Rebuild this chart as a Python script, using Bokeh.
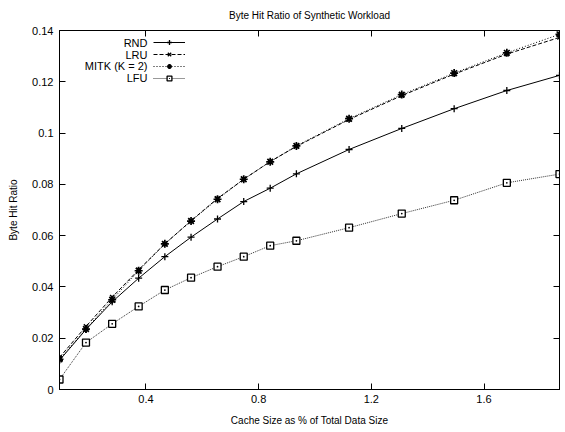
from bokeh.plotting import figure
from bokeh.models import (Range1d, LinearAxis, FixedTicker, Legend, LegendItem,
                          Label, Title)
from bokeh.embed import file_html
from bokeh.resources import INLINE

# ---------------- data ----------------
cache_size = [0.093, 0.187, 0.28, 0.374, 0.467, 0.56, 0.654, 0.747, 0.841, 0.934,
              1.121, 1.308, 1.494, 1.681, 1.868]
rnd = [0.0114, 0.0234, 0.0342, 0.0434, 0.0518, 0.0594, 0.0665, 0.0733, 0.0785, 0.0841,
       0.0936, 0.1018, 0.1095, 0.1166, 0.1225]
lru = [0.0125, 0.0246, 0.0360, 0.0467, 0.0568, 0.0658, 0.0745, 0.0820, 0.0889, 0.0948,
       0.1053, 0.1146, 0.1230, 0.1308, 0.1373]
mitk = [0.0118, 0.0236, 0.0350, 0.0463, 0.0568, 0.0657, 0.0742, 0.0820, 0.0888, 0.0950,
        0.1056, 0.1150, 0.1234, 0.1313, 0.1385]
lfu = [0.0039, 0.0183, 0.0256, 0.0324, 0.0388, 0.0436, 0.0479, 0.0518, 0.0561, 0.0580,
       0.0631, 0.0686, 0.0738, 0.0806, 0.0840]
series_names = ["RND", "LRU", "MITK (K = 2)", "LFU"]
x_ticks = [0.4, 0.8, 1.2, 1.6]
x_tick_labels = ["0.4", "0.8", "1.2", "1.6"]
y_ticks = [0.0, 0.02, 0.04, 0.06, 0.08, 0.1, 0.12, 0.14]
y_tick_labels = ["0", "0.02", "0.04", "0.06", "0.08", "0.1", "0.12", "0.14"]
title_text = "Byte Hit Ratio of Synthetic Workload"
x_label = "Cache Size as % of Total Data Size"
y_label = "Byte Hit Ratio"

FONT = "Liberation Sans"

p = figure(width=560, height=432, output_backend="svg", toolbar_location=None,
           x_range=Range1d(cache_size[0], cache_size[-1]),
           y_range=Range1d(y_ticks[0], y_ticks[-1]),
           x_axis_type=None, y_axis_type=None,
           min_border_left=59, min_border_right=1, min_border_top=30, min_border_bottom=43)
p.grid.visible = False
p.outline_line_color = "black"
p.outline_line_width = 1
p.background_fill_color = "white"
p.border_fill_color = "white"

p.title = Title(text=title_text, align="center", vertical_align="top", text_font=FONT,
                text_font_size="10px", text_font_style="normal", text_color="black",
                standoff=16, offset=0)


def style_axis(ax, show_labels):
    ax.axis_line_color = "black"
    ax.major_tick_line_color = "black"
    ax.major_tick_in = 6
    ax.major_tick_out = 0
    ax.minor_tick_line_color = None
    ax.major_label_text_font = FONT
    ax.major_label_text_color = "black"
    ax.axis_label_text_font = FONT
    ax.axis_label_text_font_style = "normal"
    ax.axis_label_text_font_size = "10px"
    ax.axis_label_text_color = "black"
    if show_labels:
        ax.major_label_text_font_size = "11px"
    else:
        ax.major_label_text_font_size = "1px"
        ax.major_label_standoff = 0


xb = LinearAxis(ticker=FixedTicker(ticks=x_ticks), axis_label=x_label,
                major_label_overrides={t: s for t, s in zip(x_ticks, x_tick_labels)})
style_axis(xb, True)
xb.major_label_standoff = 5
xb.axis_label_standoff = 9
p.add_layout(xb, "below")

yl = LinearAxis(ticker=FixedTicker(ticks=y_ticks), axis_label=y_label,
                major_label_overrides={t: s for t, s in zip(y_ticks, y_tick_labels)})
style_axis(yl, True)
yl.major_label_standoff = 6
yl.axis_label_standoff = 10
p.add_layout(yl, "left")

xt = LinearAxis(ticker=FixedTicker(ticks=x_ticks),
                major_label_overrides={t: "" for t in x_ticks})
style_axis(xt, False)
p.add_layout(xt, "above")
yr = LinearAxis(ticker=FixedTicker(ticks=y_ticks),
                major_label_overrides={t: "" for t in y_ticks})
style_axis(yr, False)
p.add_layout(yr, "right")

styles = [
    dict(data=rnd, dash="solid", marker="cross", size=7, mlw=1.3, color="black"),
    dict(data=lru, dash="4 2", marker="x", size=6, mlw=1.3, color="black"),
    dict(data=mitk, dash="1 2", marker="asterisk", size=8, mlw=1.7, color="black"),
    dict(data=lfu, dash="1 1", marker="square_dot", size=7, mlw=1.3, color="#333333"),
]

items = []
for name, st in zip(series_names, styles):
    lr = p.line(cache_size, st["data"], line_color=st["color"], line_width=1,
                line_dash=st["dash"])
    sr = p.scatter(cache_size, st["data"], marker=st["marker"], size=st["size"],
                   line_color="black", fill_color="white", line_width=st["mlw"])
    items.append(LegendItem(label=" ", renderers=[lr, sr]))

legend = Legend(items=items, location=(94, 305), glyph_width=32, glyph_height=12,
                label_height=12, label_width=0, label_standoff=0, spacing=0, padding=0,
                margin=0, label_text_font_size="6px", border_line_color=None,
                background_fill_alpha=0)
p.add_layout(legend, "center")

for i, name in enumerate(series_names):
    p.add_layout(Label(x=88, y=346.7 - 11.7 * i, x_units="screen", y_units="screen",
                       text=name, text_align="right", text_baseline="middle",
                       text_font=FONT, text_font_size="11px", text_color="black"))

open("out.html", "w").write(file_html(p, INLINE))
